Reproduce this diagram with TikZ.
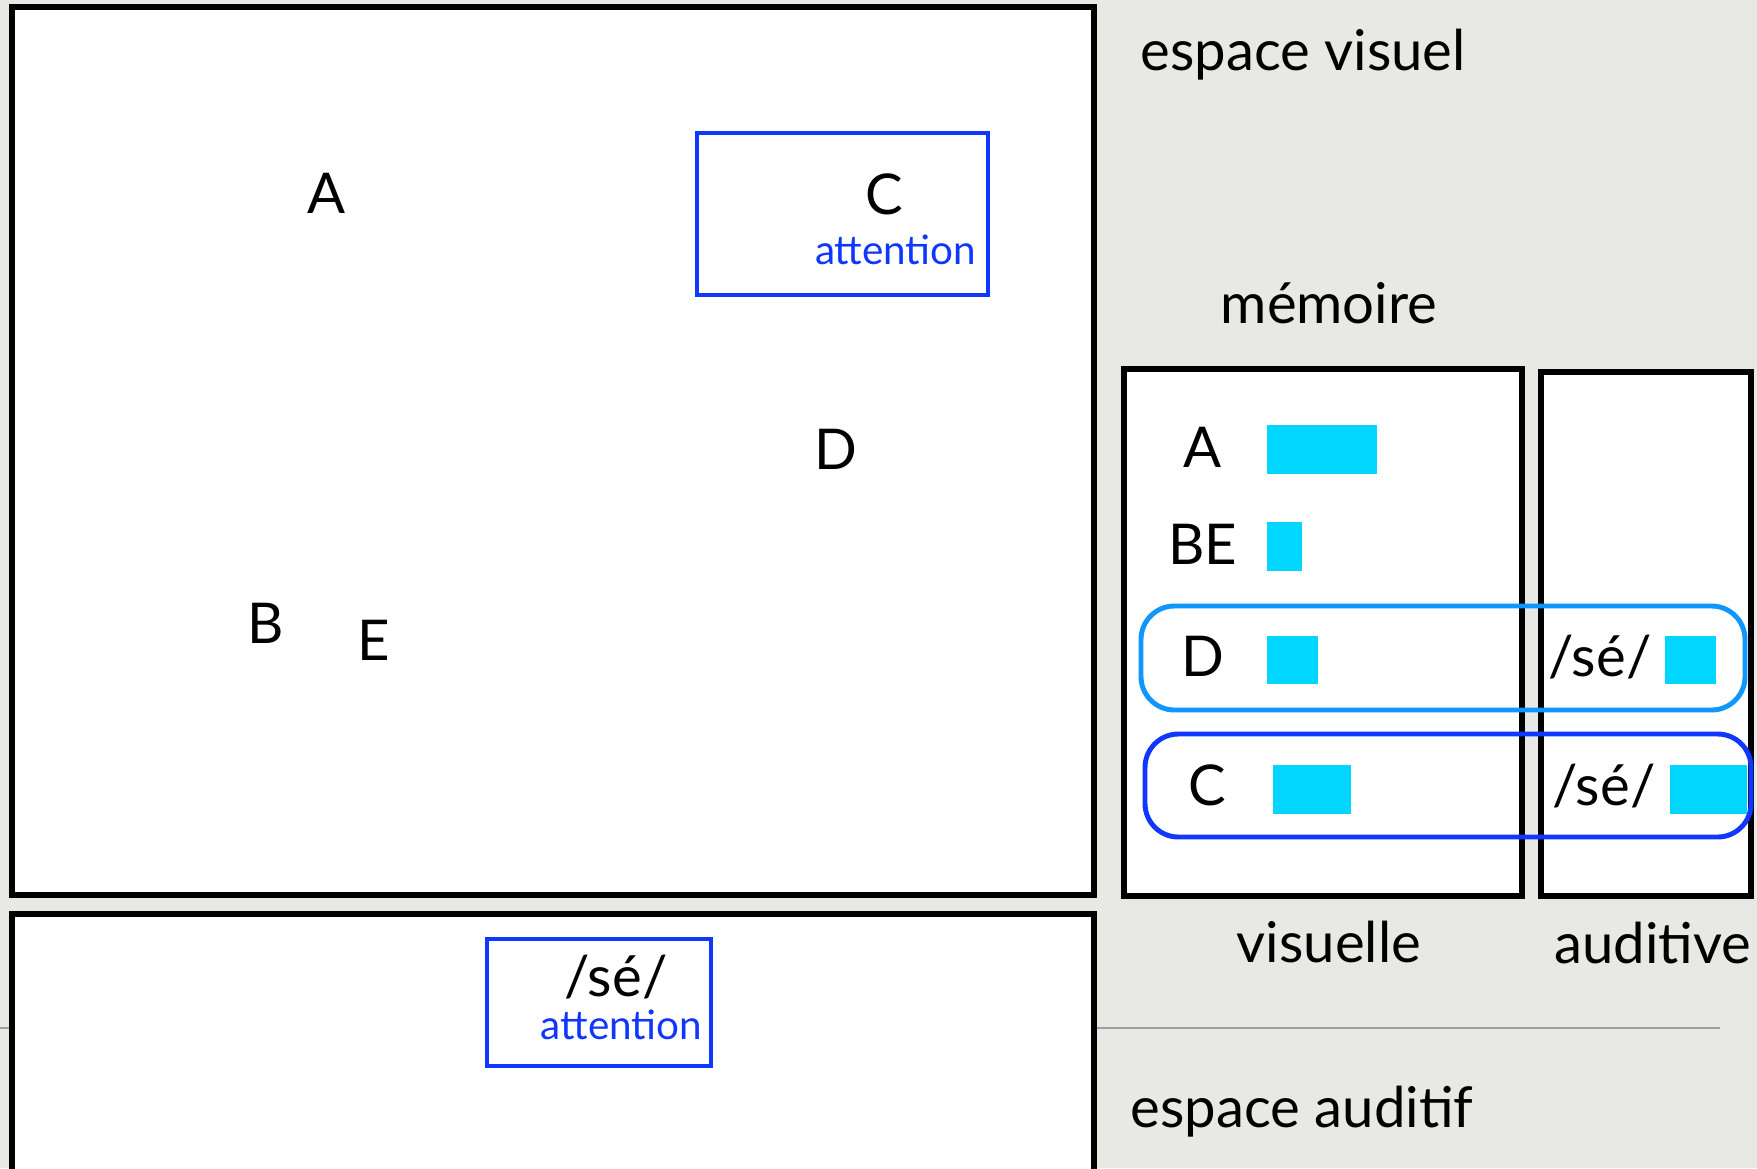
\documentclass[tikz,border=0pt]{standalone}
\usepackage{fontspec}
\setmainfont{Lato}
\usepackage{xcolor}
\usetikzlibrary{positioning}

\definecolor{bleu}{RGB}{15,55,255}
\definecolor{bleuclair}{RGB}{15,150,255}
\definecolor{cyanbar}{RGB}{0,214,255}
\definecolor{fond}{RGB}{232,233,229}

\tikzset{
    cadre/.style={draw=black, line width=1.5pt, fill=white},
    attn/.style={draw=bleu, line width=1.4pt},
    ligne/.style={rounded corners=9.5pt, line width=1.4pt},
    barre/.style={fill=cyanbar},
    grand/.style={font=\fontsize{16}{16}\selectfont, inner sep=0pt},
    petit/.style={font=\fontsize{11.5}{11.5}\selectfont, text=bleu, inner sep=0pt},
}

\begin{document}
\begin{tikzpicture}[x=0.1mm, y=-0.1mm]
    \clip (0,0) rectangle (1757,1168);
    \fill[fond] (0,0) rectangle (1757,1168);
    \draw[gray!75, line width=0.7pt] (0,1028) -- (1720,1028);

    % espace visuel
    \draw[cadre] (12,7) rectangle (1094,895);
    \node[grand, anchor=base] (vA) at (327,213) {A};
    \node[grand, anchor=base] (vB) at (266,643) {B};
    \node[grand, anchor=base] (vE) at (374,660) {E};
    \node[grand, anchor=base] (vD) at (836,469) {D};
    \draw[attn] (697,133) rectangle (988,295);
    \node[grand, anchor=base] (vC) at (884,214) {C};
    \node[petit, anchor=base east] (attvis) at (977,264) {attention};

    % espace auditif
    \draw[cadre] (12,914) rectangle (1094,1250);
    \draw[attn] (487,939) rectangle (711,1066);
    \node[grand, anchor=base] (ase) at (616,996) {/sé/};
    \node[petit, anchor=base east] (attaud) at (703,1039) {attention};

    \node[grand, anchor=base west] (titrevis) at (1140,71) {espace visuel};
    \node[grand, anchor=base west] (titreaud) at (1130,1127) {espace auditif};

    % memoire
    \node[grand, anchor=base] (titremem) at (1329,323) {mémoire};
    \draw[cadre] (1124,369) rectangle (1522,896);
    \draw[cadre] (1541,372) rectangle (1751,896);
    \node[grand, anchor=base] (memvis) at (1329,962) {visuelle};
    \node[grand, anchor=base] (memaud) at (1653,963) {auditive};

    \node[grand, anchor=base] (mA) at (1203,467) {A};
    \node[grand, anchor=base] (mBE) at (1203,564) {BE};
    \node[grand, anchor=base] (mD) at (1203,676) {D};
    \node[grand, anchor=base] (mC) at (1207,805) {C};
    \node[grand, anchor=base] (mseD) at (1600,676) {/sé/};
    \node[grand, anchor=base] (mseC) at (1604,805) {/sé/};

    \foreach \xa/\ya/\xb/\yb in {1267/425/1377/474, 1267/522/1302/571, 1267/636/1318/684,
        1273/765/1351/814, 1665/636/1716/684, 1670/765/1747/814}
        \fill[barre] (\xa,\ya) rectangle (\xb,\yb);

    \draw[ligne, bleuclair] (1141,606) rectangle (1745,710);
    \draw[ligne, bleu] (1145,734) rectangle (1751,837);
\end{tikzpicture}
\end{document}
